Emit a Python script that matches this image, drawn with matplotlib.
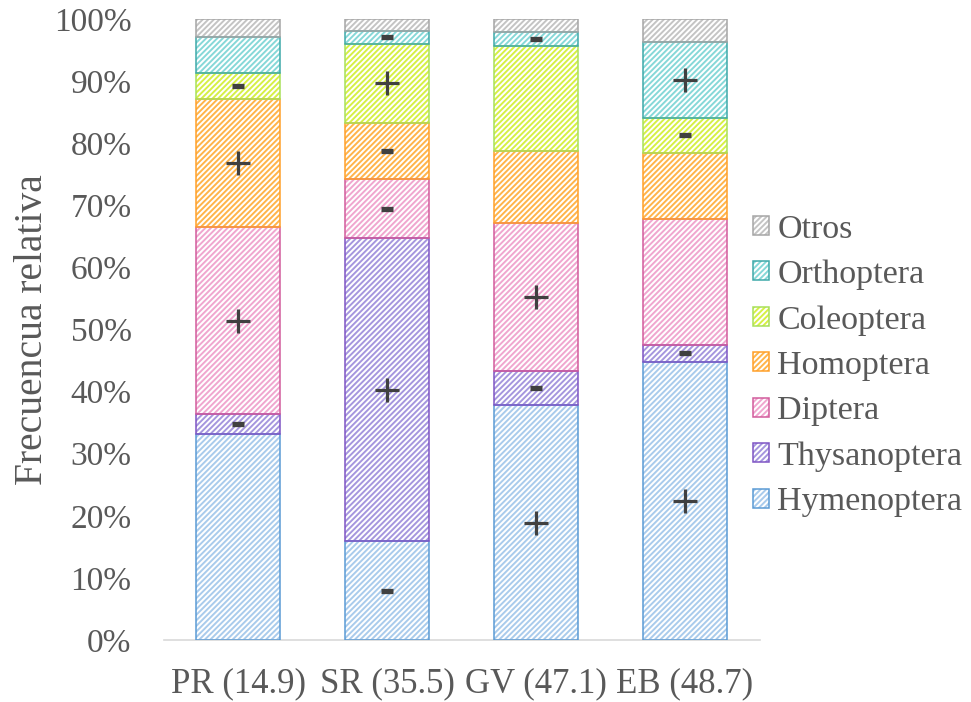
import numpy as np
import matplotlib
matplotlib.use("Agg")
import matplotlib.pyplot as plt
from matplotlib.patches import Patch
from matplotlib.legend_handler import HandlerTuple

plt.rcParams['font.family'] = ['Liberation Serif', 'DejaVu Serif']
plt.rcParams['hatch.linewidth'] = 1.4

sites = ["PR (14.9)", "SR (35.5)", "GV (47.1)", "EB (48.7)"]
orders = ["Hymenoptera", "Thysanoptera", "Diptera", "Homoptera",
          "Coleoptera", "Orthoptera", "Otros"]

# relative frequency (%) of each order per site
hymenoptera = [33.2, 15.9, 37.8, 44.8]
thysanoptera = [3.2, 48.8, 5.5, 2.7]
diptera = [30.1, 9.5, 23.8, 20.3]
homoptera = [20.6, 9.1, 11.6, 10.6]
coleoptera = [4.2, 12.7, 16.9, 5.7]
orthoptera = [5.8, 2.1, 2.3, 12.2]
otros = [2.9, 1.9, 2.1, 3.7]

# association sign per order and site (None = not significant)
signs_hymenoptera = [None, "-", "+", "+"]
signs_thysanoptera = ["-", "+", "-", "-"]
signs_diptera = ["+", "-", "+", None]
signs_homoptera = ["+", "-", None, None]
signs_coleoptera = ["-", "+", None, "-"]
signs_orthoptera = [None, "-", "-", "+"]
signs_otros = [None, None, None, None]

values = [hymenoptera, thysanoptera, diptera, homoptera, coleoptera, orthoptera, otros]
signs = [signs_hymenoptera, signs_thysanoptera, signs_diptera, signs_homoptera,
         signs_coleoptera, signs_orthoptera, signs_otros]

stripe_colors = ["#a9cbec", "#a596de", "#f0a6cf", "#ffb44a", "#d6f044", "#86d8d8", "#c4c4c4"]
edge_colors = ["#5b9bd5", "#7f55c4", "#d25c9c", "#ffa02a", "#a8e05a", "#3fa9a9", "#a6a6a6"]

HATCH = "//////"

fig = plt.figure(figsize=(9.71, 7.02), dpi=100)
ax = fig.add_axes([0.1684, 0.0883, 0.6138, 0.8846])

x = np.arange(len(sites))
width = 0.57
bottom = np.zeros(len(sites))
handles = []
for vals, sg, sc, ec, name in zip(values, signs, stripe_colors, edge_colors, orders):
    vals = np.array(vals, dtype=float)
    ax.bar(x, vals, width, bottom=bottom, facecolor="white", edgecolor=sc,
           hatch=HATCH, linewidth=0, zorder=2)
    ax.bar(x, vals, width, bottom=bottom, fill=False, edgecolor=ec,
           linewidth=1.1, zorder=3)
    for xi, b, v, s in zip(x, bottom, vals, sg):
        if s == "+":
            ax.plot(xi, b + v / 2, marker="+", markersize=17, mew=2.3,
                    color="#404040", zorder=4)
        elif s == "-":
            ax.plot(xi, b + v / 2, marker="_", markersize=9, mew=3.8,
                    color="#404040", zorder=4)
    bottom += vals
    handles.append((Patch(facecolor="white", edgecolor=sc, hatch=HATCH, linewidth=0),
                    Patch(fill=False, edgecolor=ec, linewidth=1.1)))

ax.set_xlim(-0.5, 3.5)
ax.set_ylim(0, 100)
ax.set_yticks(np.arange(0, 101, 10))
ax.set_yticklabels([f"{t}%" for t in range(0, 101, 10)])
ax.set_xticks(x)
ax.set_xticklabels(sites)
ax.tick_params(axis="both", length=0, labelsize=24, colors="#595959")
ax.tick_params(axis="x", labelsize=25, pad=20)
ax.tick_params(axis="y", pad=23)
for side in ["top", "right", "left"]:
    ax.spines[side].set_visible(False)
ax.spines["bottom"].set_color("#d9d9d9")
ax.spines["bottom"].set_linewidth(1.2)
ax.set_ylabel("Frecuencua relativa", fontsize=28.5, color="#595959", labelpad=2)

fig.legend(handles[::-1], orders[::-1], handler_map={tuple: HandlerTuple(ndivide=1)},
           loc="center left", bbox_to_anchor=(0.775, 0.479), frameon=False,
           fontsize=24.5, labelcolor="#595959", handlelength=0.48, handleheight=0.48,
           handletextpad=0.25, labelspacing=0.44, borderpad=0, borderaxespad=0)

fig.savefig("out.png", dpi=100)
